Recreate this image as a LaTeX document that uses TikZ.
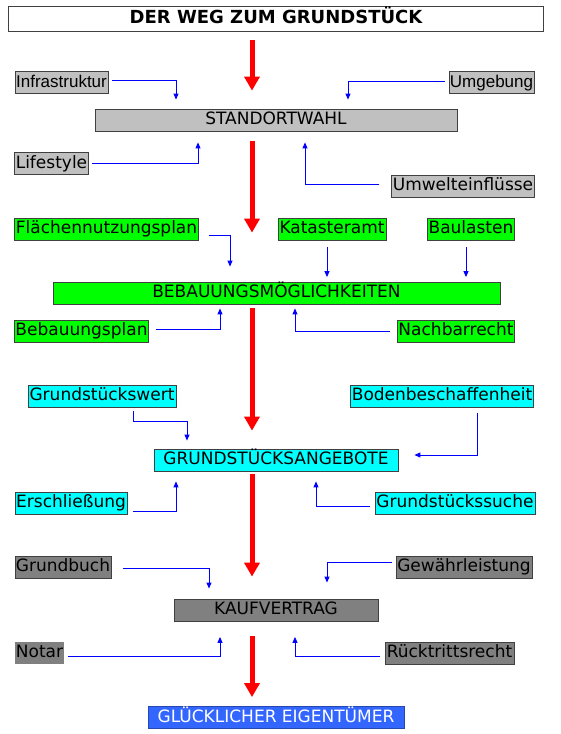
\documentclass[tikz,border=0pt]{standalone}
\usepackage{fontspec}
\setmainfont{DejaVu Sans}
\newfontfamily\arialfont{Liberation Sans}
\usetikzlibrary{arrows.meta}
\definecolor{factorgray}{HTML}{C0C0C0}
\definecolor{contractgray}{HTML}{808080}
\definecolor{buildgreen}{HTML}{00FF00}
\definecolor{offercyan}{HTML}{00FFFF}
\definecolor{ownerblue}{HTML}{3366FF}
\definecolor{linkblue}{HTML}{0000FF}

\begin{document}
\begin{tikzpicture}[
			x=1pt, y=-1pt,
			box/.style={rectangle, draw=black!75, line width=0.8pt, inner xsep=1pt, inner ysep=0pt, minimum height=22pt, text height=13pt, text depth=4pt, font=\fontsize{17}{20}\selectfont},
			phase/.style={box, align=center},
			conn/.style={draw=linkblue, line width=0.9pt, -{Triangle[length=6pt, width=5pt]}},
			flow/.style={draw=red, line width=5pt, -{Triangle[length=14pt, width=15pt]}}
		]
		\useasboundingbox (0,0) rectangle (560,734);
		% Title
		\node[box, fill=white, minimum width=535pt, minimum height=25pt, font=\bfseries\fontsize{18}{21}\selectfont] (title) at (276,18.5) {DER WEG ZUM GRUNDSTÜCK};
		
		% Standortwahl
		\node[phase, fill=factorgray, minimum width=362pt] (standort) at (276,120) {STANDORTWAHL};
		\node[box, fill=factorgray, minimum width=93pt, font=\arialfont\fontsize{17}{20}\selectfont] (infra) at (61.5,82.5) {Infrastruktur};
		\node[box, fill=factorgray, minimum width=85pt, font=\arialfont\fontsize{17}{20}\selectfont] (umgeb) at (491.5,82.5) {Umgebung};
		\node[box, fill=factorgray, minimum width=73pt] (lifestyle) at (51.5,163.5) {Lifestyle};
		\node[box, fill=factorgray, minimum width=142pt] (umwelt) at (463,186) {Umwelteinflüsse};
		
		% Bebauungsmoeglichkeiten
		\node[phase, fill=buildgreen, minimum width=447pt] (bebau) at (276.5,293) {BEBAUUNGSMÖGLICHKEITEN};
		\node[box, fill=buildgreen, minimum width=183pt] (flaechen) at (106.5,229) {Flächennutzungsplan};
		\node[box, fill=buildgreen, minimum width=108pt] (kataster) at (332,229) {Katasteramt};
		\node[box, fill=buildgreen, minimum width=86pt] (baulasten) at (471,229) {Baulasten};
		\node[box, fill=buildgreen, minimum width=133pt] (bebplan) at (81.5,331) {Bebauungsplan};
		\node[box, fill=buildgreen, minimum width=116pt] (nachbar) at (456,331) {Nachbarrecht};
		
		% Grundstuecksangebote
		\node[phase, fill=offercyan, minimum width=244pt] (angebote) at (276,460) {GRUNDSTÜCKSANGEBOTE};
		\node[box, fill=offercyan, minimum width=148pt] (gswert) at (102,396) {Grundstückswert};
		\node[box, fill=offercyan, minimum width=182pt] (boden) at (442,396) {Bodenbeschaffenheit};
		\node[box, fill=offercyan, minimum width=112pt] (erschl) at (71,503) {Erschließung};
		\node[box, fill=offercyan, minimum width=160pt] (gsuche) at (455,503) {Grundstückssuche};
		
		% Kaufvertrag
		\node[phase, fill=contractgray, minimum width=204pt] (kauf) at (276,610) {KAUFVERTRAG};
		\node[box, fill=contractgray, minimum width=96pt] (grundbuch) at (63,567) {Grundbuch};
		\node[box, fill=contractgray, minimum width=136pt] (gewaehr) at (464,567) {Gewährleistung};
		\node[box, fill=contractgray, draw=none, minimum width=49pt] (notar) at (39.5,653) {Notar};
		\node[box, fill=contractgray, minimum width=129pt] (ruecktritt) at (449.5,653) {Rücktrittsrecht};
		
		% Ziel
		\node[phase, fill=ownerblue, draw=ownerblue!70!black, text=white, minimum width=256pt] (eigentuemer) at (276,717.5) {GLÜCKLICHER EIGENTÜMER};
		
		% Main flow
		\draw[flow, shorten <=9pt, shorten >=18pt] ([xshift=-24pt]title.south) -- ([xshift=-24pt]standort.north);
		\draw[flow, shorten <=10pt, shorten >=49pt] ([xshift=-24pt]standort.south) -- ([xshift=-24.5pt]bebau.north);
		\draw[flow, shorten <=4pt, shorten >=18pt] ([xshift=-24.5pt]bebau.south) -- ([xshift=-24pt]angebote.north);
		\draw[flow, shorten <=3pt, shorten >=22pt] ([xshift=-24pt]angebote.south) -- ([xshift=-24pt]kauf.north);
		\draw[flow, shorten <=15pt, shorten >=9pt] ([xshift=-24pt]kauf.south) -- ([xshift=-24pt]eigentuemer.north);
		
		% Influences
		\draw[conn] ([xshift=4pt,yshift=2.5pt]infra.east) -| ([xshift=-100pt,yshift=9pt]standort.north);
		\draw[conn] ([xshift=-4pt,yshift=1.5pt]umgeb.west) -| ([xshift=72pt,yshift=9pt]standort.north);
		\draw[conn] ([xshift=3pt]lifestyle.east) -| ([xshift=-78pt,yshift=-11pt]standort.south);
		\draw[conn] ([xshift=-12pt,yshift=2pt]umwelt.west) -| ([xshift=29pt,yshift=-11pt]standort.south);
		
		\draw[conn] ([xshift=10pt,yshift=-6.5pt]flaechen.east) -| ([xshift=-46.5pt,yshift=15pt]bebau.north);
		\draw[conn] ([xshift=-5pt,yshift=-7pt]kataster.south) -- ([xshift=50.5pt,yshift=4.5pt]bebau.north);
		\draw[conn] ([xshift=-5pt,yshift=-7pt]baulasten.south) -- ([xshift=189.5pt,yshift=4.5pt]bebau.north);
		\draw[conn] ([xshift=7pt,yshift=2pt]bebplan.east) -| ([xshift=-56.5pt,yshift=-4pt]bebau.south);
		\draw[conn] ([xshift=-7pt]nachbar.west) -| ([xshift=18.5pt,yshift=-4pt]bebau.south);
		
		\draw[conn] ([xshift=31pt,yshift=-4pt]gswert.south) -- ++(0,10) -| ([xshift=-89pt,yshift=8pt]angebote.north);
		\draw[conn] ([xshift=35.5pt,yshift=-6pt]boden.south) |- ([xshift=16pt,yshift=5pt]angebote.east);
		\draw[conn] ([xshift=6pt,yshift=-8.5pt]erschl.east) -| ([xshift=-100pt,yshift=-10pt]angebote.south);
		\draw[conn] ([xshift=-5pt,yshift=-3pt]gsuche.west) -| ([xshift=40pt,yshift=-10pt]angebote.south);
		
		\draw[conn] ([xshift=11.5pt,yshift=-1pt]grundbuch.east) -| ([xshift=-67pt,yshift=10pt]kauf.north);
		\draw[conn] ([xshift=-4pt,yshift=4.5pt]gewaehr.west) -| ([xshift=51pt,yshift=16pt]kauf.north);
		\draw[conn] ([xshift=4pt,yshift=-3.5pt]notar.east) -| ([xshift=-56pt,yshift=-15.5pt]kauf.south);
		\draw[conn] ([xshift=-5pt,yshift=-3.5pt]ruecktritt.west) -| ([xshift=19pt,yshift=-15.5pt]kauf.south);
		\end{tikzpicture}
\end{document}
